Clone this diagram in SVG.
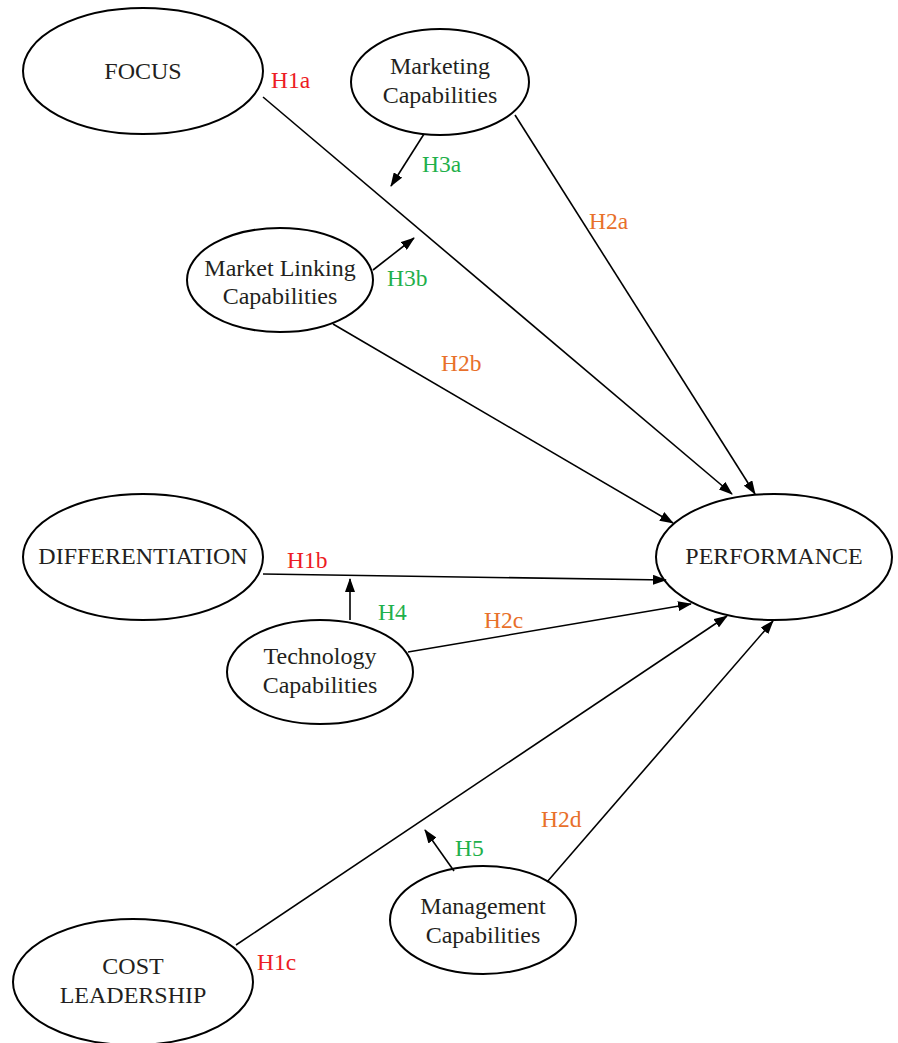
<svg xmlns="http://www.w3.org/2000/svg" width="898" height="1043" viewBox="0 0 898 1043">
<style>
.n{fill:#fff;stroke:#000;stroke-width:2}
.t{font-family:"Liberation Serif",serif;font-size:24px;fill:#231f20;text-anchor:middle}
.l{font-family:"Liberation Serif",serif;font-size:23.5px}
.r{fill:#ed1c24}.g{fill:#1fb04b}.o{fill:#e8702a}
.c line{stroke:#000;stroke-width:1.6}
</style>
<defs>
<marker id="a" viewBox="0 0 14 10" refX="13" refY="5" markerWidth="14" markerHeight="10" markerUnits="userSpaceOnUse" orient="auto">
<path d="M0,0 L14,5 L0,10 z" fill="#000"/>
</marker>
</defs>
<rect width="898" height="1043" fill="#fff"/>
<g id="focus"><ellipse class="n" cx="143" cy="71" rx="120" ry="63"/><text class="t" x="143" y="79">FOCUS</text></g>
<g id="marketing"><ellipse class="n" cx="440" cy="82" rx="89" ry="53"/><text class="t" x="440" y="74">Marketing</text><text class="t" x="440" y="103">Capabilities</text></g>
<g id="marketlinking"><ellipse class="n" cx="280" cy="280" rx="93" ry="52"/><text class="t" x="280" y="276">Market Linking</text><text class="t" x="280" y="304">Capabilities</text></g>
<g id="differentiation"><ellipse class="n" cx="143" cy="557" rx="120" ry="63"/><text class="t" x="143" y="564">DIFFERENTIATION</text></g>
<g id="performance"><ellipse class="n" cx="774" cy="557" rx="118" ry="63"/><text class="t" x="774" y="564">PERFORMANCE</text></g>
<g id="technology"><ellipse class="n" cx="320" cy="672" rx="93" ry="52"/><text class="t" x="320" y="664">Technology</text><text class="t" x="320" y="693">Capabilities</text></g>
<g id="management"><ellipse class="n" cx="483" cy="920" rx="93" ry="54"/><text class="t" x="483" y="914">Management</text><text class="t" x="483" y="943">Capabilities</text></g>
<g id="cost"><ellipse class="n" cx="133" cy="982" rx="120" ry="63"/><text class="t" x="133" y="974">COST</text><text class="t" x="133" y="1003">LEADERSHIP</text></g>
<g class="c" id="connectors">
<line x1="263" y1="97" x2="732" y2="494" marker-end="url(#a)"/>
<line x1="515" y1="115" x2="755" y2="494" marker-end="url(#a)"/>
<line x1="424" y1="134" x2="391" y2="186" marker-end="url(#a)"/>
<line x1="373" y1="270" x2="414" y2="238" marker-end="url(#a)"/>
<line x1="333" y1="324" x2="673" y2="523" marker-end="url(#a)"/>
<line x1="263" y1="574" x2="666" y2="580" marker-end="url(#a)"/>
<line x1="350" y1="620" x2="350" y2="579" marker-end="url(#a)"/>
<line x1="408" y1="652" x2="691" y2="604" marker-end="url(#a)"/>
<line x1="236" y1="945" x2="727" y2="616" marker-end="url(#a)"/>
<line x1="547" y1="882" x2="773" y2="621" marker-end="url(#a)"/>
<line x1="454" y1="871" x2="425" y2="830" marker-end="url(#a)"/>
</g>
<g id="labels" class="l">
<text class="r" x="271" y="88">H1a</text>
<text class="g" x="422" y="172">H3a</text>
<text class="o" x="589" y="229">H2a</text>
<text class="g" x="387" y="286">H3b</text>
<text class="o" x="441" y="371">H2b</text>
<text class="r" x="287" y="568">H1b</text>
<text class="g" x="378" y="620">H4</text>
<text class="o" x="484" y="628">H2c</text>
<text class="o" x="541" y="827">H2d</text>
<text class="g" x="455" y="856">H5</text>
<text class="r" x="257" y="970">H1c</text>
</g>
</svg>
